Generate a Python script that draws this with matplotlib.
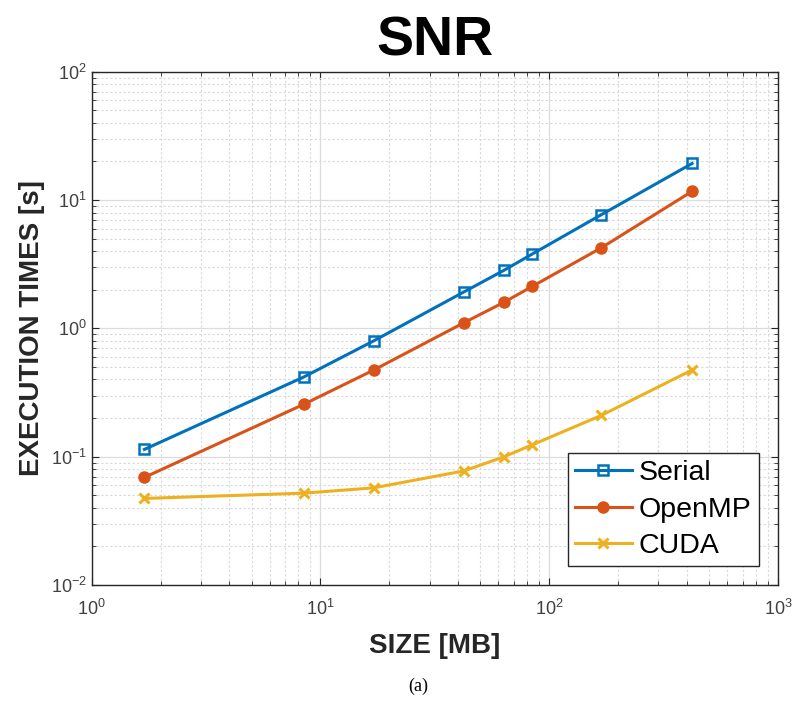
"""SNR execution times, log-log, MATLAB look."""

import matplotlib
matplotlib.use("Agg")
import matplotlib.pyplot as plt
from matplotlib.ticker import LogLocator, NullFormatter

sizes_mb = [1.7, 8.45, 17.1, 42.5, 63.5, 84.5, 169, 421]
serial = [0.114, 0.418, 0.80, 1.93, 2.84, 3.81, 7.7, 19.3]
openmp = [0.069, 0.256, 0.474, 1.11, 1.60, 2.13, 4.25, 11.7]
cuda = [0.0473, 0.052, 0.0572, 0.0776, 0.100, 0.124, 0.21, 0.474]
series_names = ["Serial", "OpenMP", "CUDA"]

plt.rcParams["font.family"] = ["Liberation Sans", "DejaVu Sans"]
plt.rcParams["mathtext.fontset"] = "custom"
plt.rcParams["mathtext.rm"] = "Liberation Sans"
plt.rcParams["mathtext.it"] = "Liberation Sans"
plt.rcParams["mathtext.bf"] = "Liberation Sans:bold"
plt.rcParams["axes.unicode_minus"] = False

fig = plt.figure(figsize=(7.95, 7.04), dpi=100)
ax = fig.add_axes([0.1153, 0.169, 0.8633, 0.729])

ax.plot(sizes_mb, serial, color="#0072BD", lw=2.2, marker="s", ms=7,
        mfc="none", mew=1.8, label=series_names[0])
ax.plot(sizes_mb, openmp, color="#D95319", lw=2.2, marker="o", ms=8,
        label=series_names[1])
ax.plot(sizes_mb, cuda, color="#EDB120", lw=2.2, marker="x", ms=7,
        mew=2.2, label=series_names[2])

ax.set_xscale("log")
ax.set_yscale("log")
ax.set_xlim(1, 1000)
ax.set_ylim(0.01, 100)

ax.xaxis.set_major_locator(LogLocator(base=10, numticks=10))
ax.yaxis.set_major_locator(LogLocator(base=10, numticks=10))
ax.xaxis.set_minor_locator(LogLocator(base=10, subs=range(2, 10), numticks=20))
ax.yaxis.set_minor_locator(LogLocator(base=10, subs=range(2, 10), numticks=20))
ax.xaxis.set_minor_formatter(NullFormatter())
ax.yaxis.set_minor_formatter(NullFormatter())

ax.grid(True, which="major", color="#dcdcdc", lw=0.9, ls="-")
ax.grid(True, which="minor", color="#d8d8d8", lw=0.8, ls=(0, (2, 2)))
ax.set_axisbelow(True)

for sp in ax.spines.values():
    sp.set_color("#262626")
    sp.set_linewidth(1.0)
ax.tick_params(which="both", direction="in", top=True, right=True,
               colors="#262626", labelcolor="#404040", labelsize=13)
ax.tick_params(which="major", length=5)
ax.tick_params(which="minor", length=3)
ax.tick_params(axis="x", pad=10)

ax.set_title("SNR", fontsize=40, fontweight="bold", pad=12)
ax.set_xlabel("SIZE [MB]", fontsize=20, fontweight="bold", color="#262626",
              labelpad=10)
ax.set_ylabel("EXECUTION TIMES [s]", fontsize=20, fontweight="bold",
              color="#262626", labelpad=4)

leg = ax.legend(loc="lower right", bbox_to_anchor=(0.972, 0.037),
                borderaxespad=0, fontsize=20.5, fancybox=False, framealpha=1,
                edgecolor="#262626", handlelength=2.0, borderpad=0.25,
                labelspacing=0.36, handletextpad=0.25)
leg.get_frame().set_linewidth(1.0)

fig.text(0.526, 0.025, "(a)", ha="center", va="center", fontsize=13,
         family=["Liberation Serif", "DejaVu Serif"])

fig.savefig("out.png", dpi=100)
